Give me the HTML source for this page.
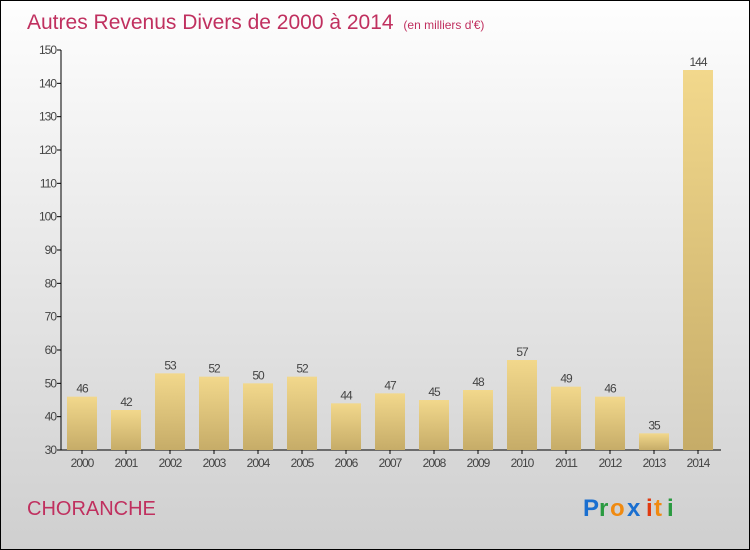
<!DOCTYPE html>
<html><head><meta charset="utf-8"><style>
body{margin:0}
#c{position:relative;width:748px;height:548px;border:1px solid #000;background:linear-gradient(#fefefe,#f0f0f0 30%,#cfcfcf);overflow:hidden;font-family:"Liberation Sans",sans-serif}
</style></head><body>
<div id="c">
<svg width="748" height="548">
<defs><linearGradient id="bg" x1="0" y1="0" x2="0" y2="1"><stop offset="0" stop-color="#f2d88c"/><stop offset="1" stop-color="#c6ac68"/></linearGradient></defs>
<text x="26" y="28" font-size="21" fill="#c0305f">Autres Revenus Divers de 2000 à 2014 <tspan font-size="12" dx="4">(en milliers d'€)</tspan></text>
<g id="g"></g>
<text x="26" y="514" font-size="20" fill="#c0305f">CHORANCHE</text>
<g font-size="24" font-weight="bold">
<text x="582" y="515" fill="#1a6fd0">P</text><text x="598" y="515" fill="#2a9a40">r</text><text x="609" y="515" fill="#f08a10">o</text><text x="626" y="515" fill="#1a6fd0">x</text><text x="645" y="515" fill="#e03a10">i</text><text x="653" y="515" fill="#f08a10">t</text><text x="666" y="515" fill="#2a9a40">i</text></g>
</svg></div>
<script>
const years=["2000","2001","2002","2003","2004","2005","2006","2007","2008","2009","2010","2011","2012","2013","2014"];
const values=[46,42,53,52,50,52,44,47,45,48,57,49,46,35,144];
const ticks=[30,40,50,60,70,80,90,100,110,120,130,140,150];
const NS="http://www.w3.org/2000/svg",g=document.getElementById('g');
const y=v=>449-(v-30)*(400/120), x=i=>81+i*44;
function mk(t,a,txt){const e=document.createElementNS(NS,t);for(const k in a)e.setAttribute(k,a[k]);if(txt!=null)e.textContent=txt;g.appendChild(e);return e;}
let ax=mk('line',{x1:60,y1:49,x2:60,y2:449,stroke:'#000'});


let bx=mk('line',{x1:60,y1:449,x2:720,y2:449,stroke:'#000'});


ticks.forEach(t=>{mk('line',{x1:56,y1:y(t),x2:60,y2:y(t),stroke:'#000'});
const l=mk('text',{x:55,y:y(t)+4,'font-size':12,fill:'#444','text-anchor':'end','letter-spacing':'-1'},t);

});
values.forEach((v,i)=>{
const b=mk('rect',{x:x(i)-15,y:y(v),width:30,height:449-y(v),fill:'url(#bg)'});


const vl=mk('text',{x:x(i),y:y(v)-4,'font-size':12,fill:'#444','text-anchor':'middle','letter-spacing':'-1'},v);


mk('line',{x1:x(i),y1:449,x2:x(i),y2:453,stroke:'#000'});
const xl=mk('text',{x:x(i),y:466,'font-size':12,fill:'#444','text-anchor':'middle','letter-spacing':'-1'},years[i]);

});
</script></body></html>
